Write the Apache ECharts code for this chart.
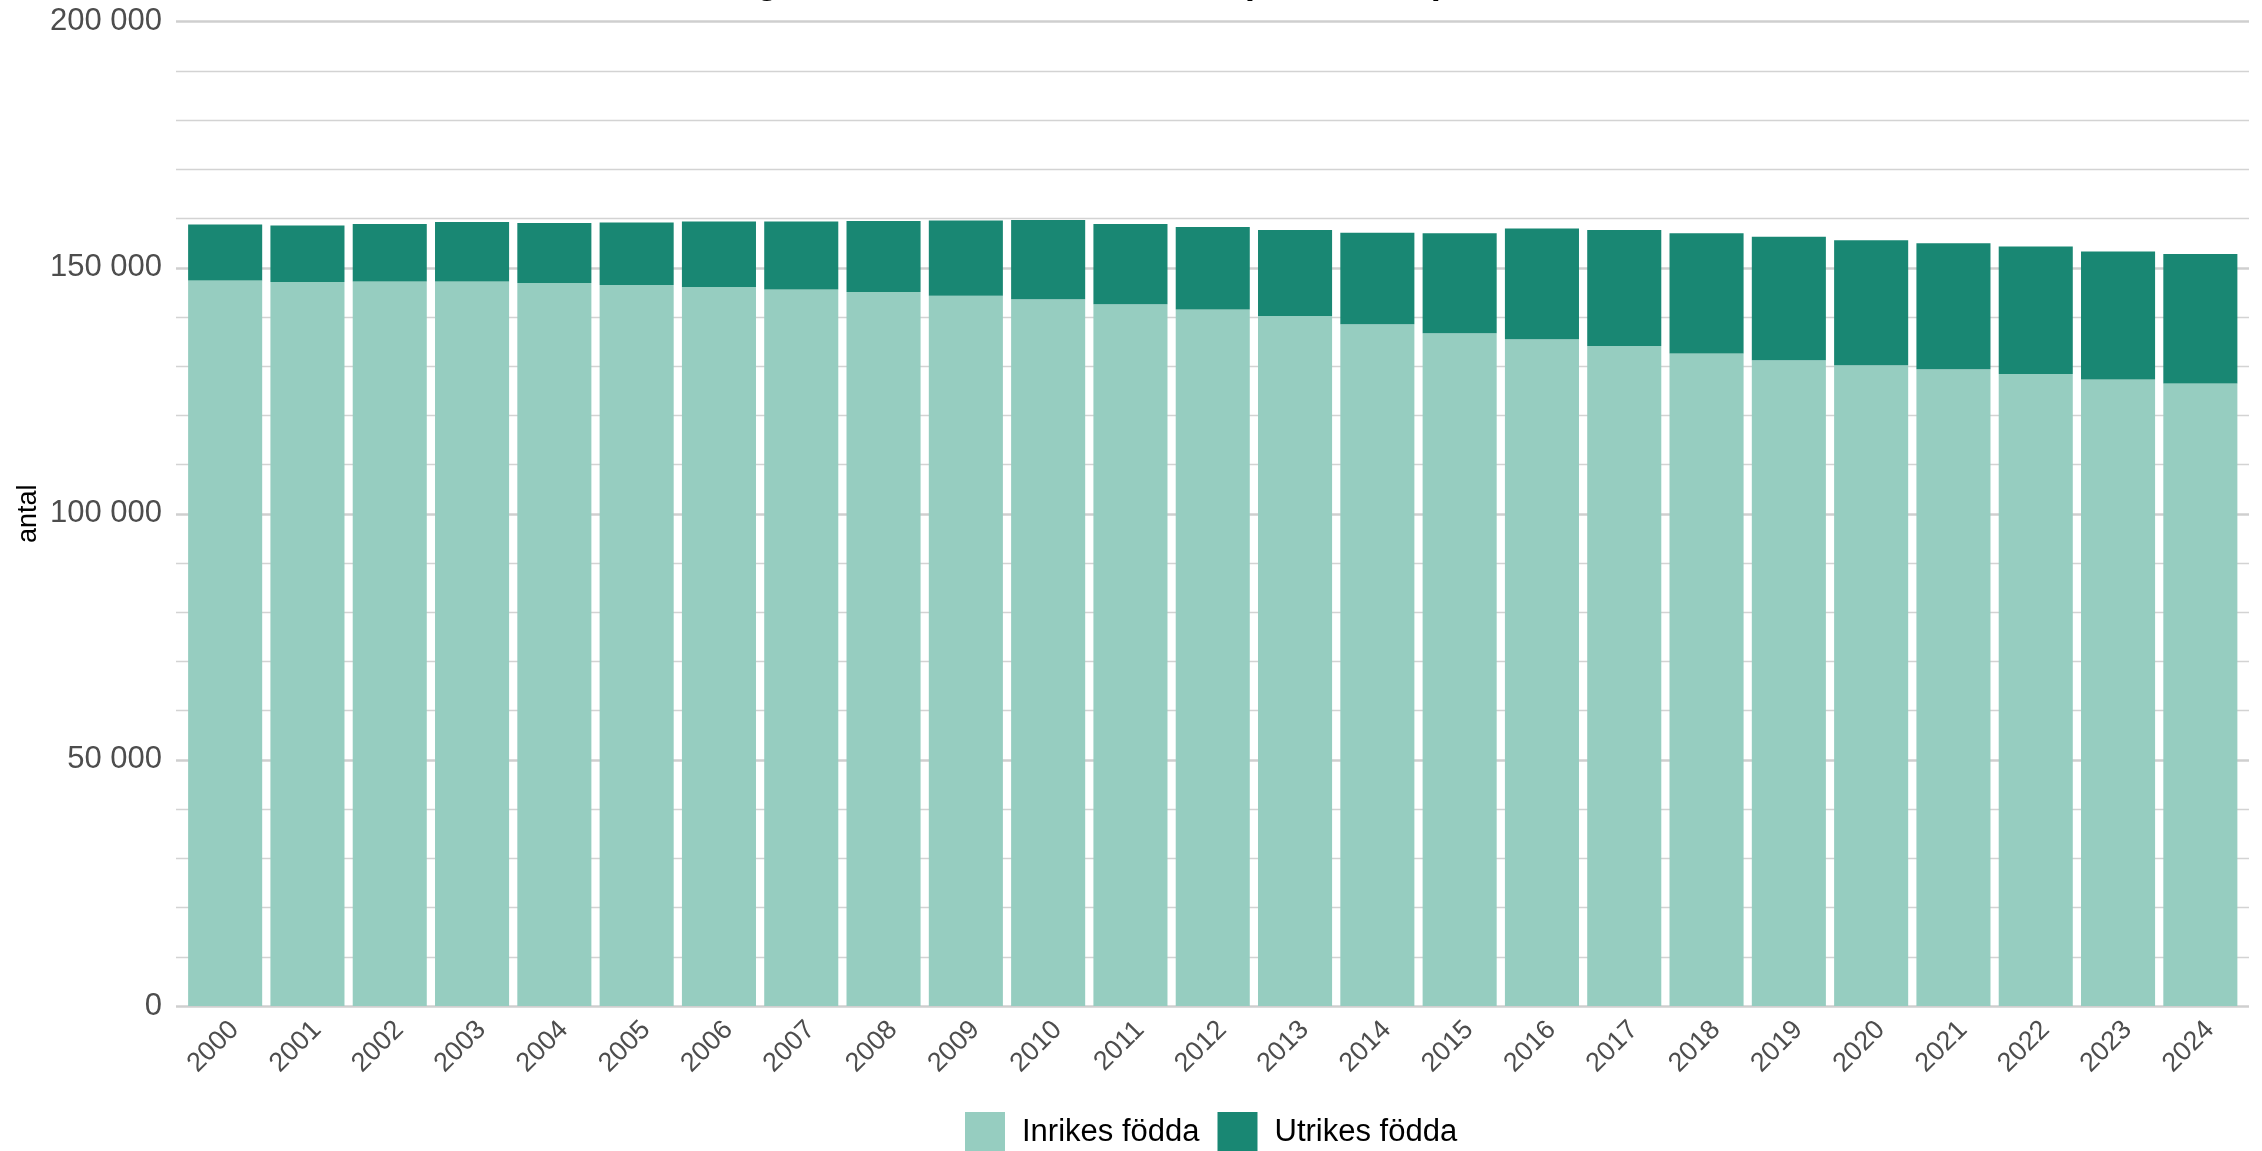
<!DOCTYPE html>
<html>
<head>
<meta charset="utf-8">
<script src="https://cdn.jsdelivr.net/npm/echarts@6/dist/echarts.min.js"></script>
<style>
html,body{margin:0;padding:0;background:#fff;}
#chart{width:2262px;height:1151px;}
</style>
</head>
<body>
<div id="chart"></div>
<script>
const years = ['2000','2001','2002','2003','2004','2005','2006','2007','2008','2009','2010','2011','2012',
  '2013','2014','2015','2016','2017','2018','2019','2020','2021','2022','2023','2024'];
const inrikes = [147400,147100,147200,147200,146900,146500,146100,145600,145100,144300,143600,142600,141500,
  140200,138500,136700,135500,134100,132600,131200,130200,129400,128400,127300,126500];
const utrikes = [11400,11500,11700,12100,12200,12700,13300,13800,14400,15300,16100,16300,16800,
  17500,18600,20300,22500,23600,24400,25100,25400,25600,25900,26000,26300];
const seriesNames = ['Inrikes födda','Utrikes födda'];
const yTicks = [0, 50000, 100000, 150000, 200000];
const titleText = 'Befolkning 20–64 år efter födelseland (2000–2024)';

const FONT = '"Liberation Sans", Arial, Helvetica, sans-serif';
const fmt = v => String(v).replace(/\B(?=(\d{3})+(?!\d))/g, ' ');

const chart = echarts.init(document.getElementById('chart'), null, {renderer:'canvas'});
chart.setOption({
  animation: false,
  backgroundColor: '#ffffff',
  color: ['#96CDC0', '#198773'],
  title: {
    text: titleText,
    right: 817, top: -35, padding: 0,
    textStyle: {fontFamily: FONT, fontSize: 36, fontWeight: 'bold', color: '#000'}
  },
  legend: {
    data: seriesNames,
    left: 965, top: 1112, padding: 0,
    itemWidth: 40, itemHeight: 40, itemGap: 18,
    icon: 'rect',
    textStyle: {fontFamily: FONT, fontSize: 31, color: '#000', padding: [0,0,0,12]}
  },
  grid: [
    {left: 176, right: 13, top: 21.7, bottom: 145, containLabel: false},
    {left: 184, right: 20.5, top: 21.7, bottom: 145, containLabel: false}
  ],
  xAxis: [
    {gridIndex: 0, type: 'value', min: 0, max: 1, show: false},
    {gridIndex: 1, type: 'category', data: years,
     axisLine: {show: false}, axisTick: {show: false},
     axisLabel: {rotate: 45, margin: 10, verticalAlign: 'top', fontFamily: FONT, fontSize: 27, color: '#4D4D4D', interval: 0}}
  ],
  yAxis: [
    {gridIndex: 0, type: 'value', min: yTicks[0], max: yTicks[yTicks.length-1], interval: 50000,
     name: 'antal', nameLocation: 'middle', nameGap: 134, nameMoveOverlap: false,
     nameTextStyle: {fontFamily: FONT, fontSize: 27, color: '#000'},
     axisLine: {show: false}, axisTick: {show: false},
     axisLabel: {margin: 14, fontFamily: FONT, fontSize: 31, color: '#4D4D4D', formatter: fmt},
     splitLine: {show: true, lineStyle: {color: '#CFCFCF', width: 2.5}},
     minorTick: {show: false, splitNumber: 5},
     minorSplitLine: {show: true, lineStyle: {color: '#D3D3D3', width: 1.4}}
    },
    {gridIndex: 1, type: 'value', min: yTicks[0], max: yTicks[yTicks.length-1], show: false,
     splitLine: {show: false}}
  ],
  series: [
    {name: seriesNames[0], type: 'bar', stack: 'total', xAxisIndex: 1, yAxisIndex: 1,
     data: inrikes, barCategoryGap: '10%', itemStyle: {color: '#96CDC0'}},
    {name: seriesNames[1], type: 'bar', stack: 'total', xAxisIndex: 1, yAxisIndex: 1,
     data: utrikes, barCategoryGap: '10%', itemStyle: {color: '#198773'}}
  ]
});
</script>
</body>
</html>
